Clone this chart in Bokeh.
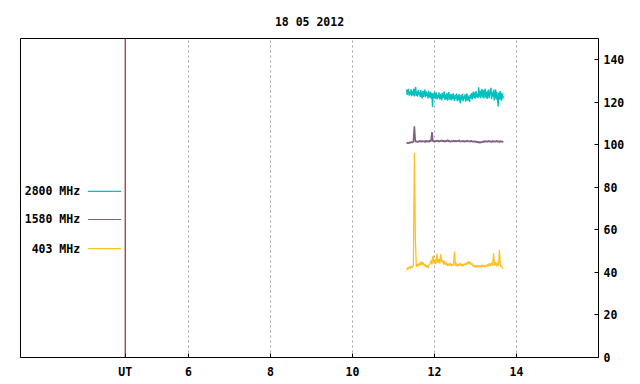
import numpy as np
from bokeh.plotting import figure
from bokeh.models import (LinearAxis, FixedTicker, Grid, Span, Range1d, Label,
                          ColumnDataSource)
from bokeh.embed import file_html
from bokeh.resources import INLINE

title_text = "18 05 2012"
series_names = ["2800 MHz", "1580 MHz", "403 MHz"]
series_colors = ["#00c0c0", "#806080", "#ffc020"]
x_ticks = [4.46, 6, 8, 10, 12, 14]
x_tick_labels = ["UT", "6", "8", "10", "12", "14"]
y_ticks = [0, 20, 40, 60, 80, 100, 120, 140]
t_start, t_end = 11.32, 13.68

flux_2800 = [
    126.0, 123.5, 125.4, 126.3, 123.1, 124.9, 123.6, 126.1, 122.9, 125.2,
    123.4, 126.4, 122.8, 125.5, 127.2, 123.0, 125.0, 122.7, 125.9, 123.6,
    124.8, 122.5, 125.7, 123.2, 121.9, 125.3, 122.6, 124.4, 126.0, 122.4,
    125.1, 122.9, 124.6, 121.8, 125.4, 123.0, 122.2, 124.9, 121.7, 124.3,
    117.8, 124.1, 122.0, 125.0, 121.6, 123.8, 124.6, 121.4, 123.5, 122.1,
    124.7, 121.3, 123.9, 122.4, 120.9, 124.5, 121.8, 123.2, 125.1, 121.1,
    123.6, 121.5, 124.3, 120.8, 123.0, 124.8, 121.2, 122.7, 124.0, 120.9,
    123.8, 121.4, 124.2, 122.0, 120.6, 123.5, 121.7, 124.1, 120.5, 123.2,
    121.0, 123.9, 120.7, 119.5, 123.4, 121.3, 124.0, 120.4, 122.8, 121.6,
    123.7, 120.3, 122.5, 124.2, 120.8, 123.1, 121.5, 120.2, 123.6, 121.9,
    124.3, 121.4, 123.8, 125.0, 122.1, 124.6, 121.7, 125.3, 122.4, 124.0,
    122.0, 127.0, 122.6, 125.4, 121.9, 124.8, 126.2, 122.3, 125.7, 121.8,
    124.9, 126.4, 122.2, 125.1, 121.6, 124.5, 126.0, 121.9, 123.3, 125.6,
    126.8, 121.5, 124.7, 122.6, 125.9, 120.9, 124.2, 126.1, 121.3, 124.9,
    121.6, 118.0, 124.6, 121.2, 125.3, 122.4, 120.8, 124.4, 121.7, 122.9,
]
flux_1580 = [
    100.6, 101.0, 100.7, 101.2, 100.9, 101.4, 101.0, 101.6, 108.7, 101.3,
    101.8, 101.2, 101.7, 101.4, 102.0, 101.3, 101.9, 101.5, 101.8, 101.2,
    102.1, 101.4, 101.9, 101.3, 102.2, 101.6, 106.0, 101.5, 101.9, 101.3,
    102.0, 101.6, 102.1, 101.4, 101.9, 101.7, 102.2, 101.5, 102.0, 101.4,
    101.9, 101.6, 102.3, 101.5, 102.0, 101.3, 101.8, 101.6, 102.1, 101.4,
    102.0, 101.5, 101.9, 101.7, 102.2, 101.4, 101.8, 101.6, 102.0, 101.3,
    101.9, 101.5, 102.1, 101.6, 101.8, 101.4, 102.0, 101.5, 101.7, 101.3,
    101.8, 101.2, 101.6, 101.0, 101.5, 100.9, 101.4, 101.1, 101.7, 101.2,
    101.9, 101.4, 101.8, 101.3, 102.0, 101.5, 101.7, 101.2, 101.9, 101.4,
    101.8, 101.3, 102.0, 101.5, 101.7, 101.2, 101.9, 101.4, 101.6, 101.3,
]
flux_403 = [
    41.0, 42.2, 41.6, 42.8, 41.9, 43.0, 42.3, 43.4, 96.1, 56.0,
    42.6, 43.8, 42.9, 44.5, 43.3, 45.2, 43.6, 44.8, 43.1, 43.9,
    42.4, 43.3, 42.1, 43.6, 44.0, 45.6, 43.8, 47.9, 44.2, 46.0,
    43.9, 48.8, 44.5, 46.3, 44.1, 48.5, 44.8, 45.9, 43.7, 45.4,
    43.4, 44.6, 43.0, 44.2, 43.2, 44.4, 42.9, 44.0, 43.3, 49.8,
    43.1, 44.3, 42.8, 44.0, 43.2, 44.5, 42.9, 43.8, 43.0, 44.2,
    43.4, 44.6, 43.7, 45.3, 44.0, 45.0, 43.6, 44.2, 42.9, 43.4,
    42.5, 43.3, 42.3, 43.5, 42.6, 43.2, 42.4, 43.6, 42.7, 43.4,
    42.5, 43.5, 42.8, 43.9, 42.9, 44.3, 43.1, 44.6, 43.2, 49.0,
    43.4, 44.8, 42.9, 44.5, 43.3, 50.7, 42.8, 43.5, 42.0, 41.8,
]
all_flux = [flux_2800, flux_1580, flux_403]
line_widths = [1.4, 1.6, 1.3]

FONT = "DejaVu Sans Mono"
FS = "11.5px"

p = figure(width=632, height=382, output_backend="svg", toolbar_location=None,
           x_range=Range1d(1.907, 16.0), y_range=Range1d(0, 150),
           x_axis_location=None, y_axis_location=None,
           min_border_left=20, min_border_right=34, min_border_top=38,
           min_border_bottom=25)
p.title.text = title_text
p.title.align = "center"
p.title.text_font = FONT
p.title.text_font_size = FS
p.title.text_font_style = "bold"
p.title.text_color = "black"
p.title.standoff = 20
p.grid.visible = False
p.outline_line_color = "black"
p.outline_line_alpha = 1
p.background_fill_color = "white"
p.border_fill_color = "white"

xaxis = LinearAxis(ticker=FixedTicker(ticks=x_ticks),
                   major_label_overrides={t: l for t, l in zip(x_ticks, x_tick_labels)})
yaxis = LinearAxis(ticker=FixedTicker(ticks=y_ticks))
for ax in (xaxis, yaxis):
    ax.major_tick_in = 4
    ax.major_tick_out = 0
    ax.minor_tick_line_color = None
    ax.axis_line_color = "black"
    ax.major_tick_line_color = "black"
    ax.major_label_text_font = FONT
    ax.major_label_text_font_size = FS
    ax.major_label_text_font_style = "bold"
    ax.major_label_text_color = "black"
xaxis.major_label_standoff = 7
yaxis.major_label_standoff = 5
p.add_layout(xaxis, "below")
p.add_layout(yaxis, "right")

grid = Grid(dimension=0, ticker=FixedTicker(ticks=x_ticks[1:]),
            grid_line_color="#a0a0a0", grid_line_dash="2 3", grid_line_width=1)
p.add_layout(grid)
p.add_layout(Span(location=x_ticks[0], dimension="height",
                  line_color="#800000", line_width=1))

for vals, col, lw in zip(all_flux, series_colors, line_widths):
    t = np.linspace(t_start, t_end, len(vals))
    src = ColumnDataSource(dict(t=t, v=vals))
    p.line("t", "v", source=src, line_color=col, line_width=lw)

# legend drawn at left inside the frame
leg_y = [78.1, 64.9, 51.2]
for name, col, yy in zip(series_names, series_colors, leg_y):
    p.add_layout(Label(x=3.36, y=yy, text=name, text_align="right",
                       text_baseline="middle", text_font=FONT,
                       text_font_size=FS, text_font_style="bold",
                       text_color="black"))
    p.segment(x0=[3.553], y0=[yy], x1=[4.36], y1=[yy], line_color=col,
              line_width=1.2)

open("out.html", "w").write(file_html(p, INLINE))
